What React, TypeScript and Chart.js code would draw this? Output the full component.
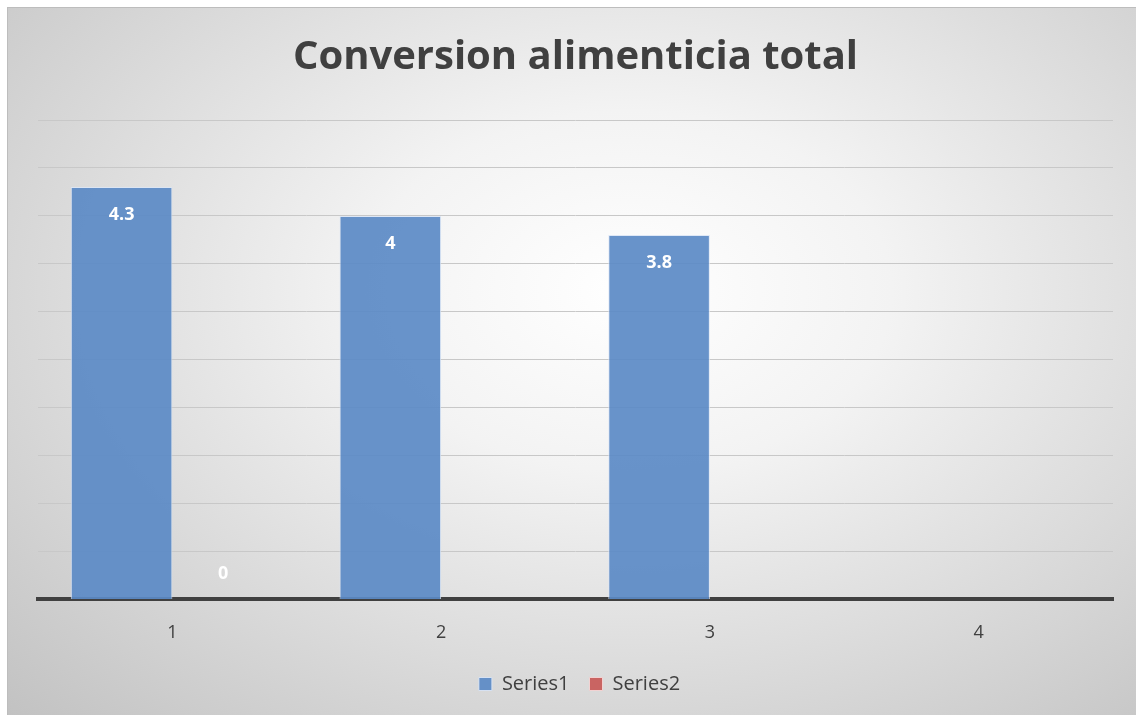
import React, { useEffect, useRef } from 'react';
import { Chart, registerables } from 'chart.js';

Chart.register(...registerables);

const chartTitle = 'Conversion alimenticia total';
const categories = ['1', '2', '3', '4'];
const seriesNames = ['Series1', 'Series2'];
const series1 = [4.3, 4, 3.8, null];
const series2 = [0, null, null, null];
const yMin = 0;
const yMax = 5;
const yStep = 0.5;

const FONT = '"Open Sans", "Noto Sans", sans-serif';

const labelPlugin = {
  id: 'barLabels',
  afterDatasetsDraw(chart: any) {
    const ctx = chart.ctx;
    ctx.save();
    ctx.fillStyle = '#ffffff';
    ctx.font = `bold 18px ${FONT}`;
    ctx.textAlign = 'center';
    ctx.textBaseline = 'middle';
    chart.data.datasets.forEach((ds: any, i: number) => {
      const meta = chart.getDatasetMeta(i);
      meta.data.forEach((el: any, j: number) => {
        const v = ds.data[j];
        if (v == null) return;
        const p = el.getProps(['x', 'y', 'base'], true);
        const ly = Math.min(p.y + 28, p.base - 26);
        ctx.fillText(String(v), p.x, ly);
      });
    });
    ctx.restore();
  },
};

const legendShift = {
  id: 'legendShift',
  afterLayout(chart: any) {
    const lg = chart.legend;
    if (lg) {
      lg.left += 4;
      lg.right += 4;
    }
  },
};

export default function App() {
  const ref = useRef<HTMLCanvasElement | null>(null);
  useEffect(() => {
    if (!ref.current) return;
    const chart = new Chart(ref.current, {
      type: 'bar',
      data: {
        labels: categories,
        datasets: [
          {
            label: seriesNames[0],
            data: series1,
            backgroundColor: 'rgba(91,138,198,0.92)',
            borderColor: 'rgba(220,230,245,0.9)',
            borderWidth: 1,
            categoryPercentage: 0.756,
            barPercentage: 1,
          },
          {
            label: seriesNames[1],
            data: series2,
            backgroundColor: 'rgba(200,90,88,0.92)',
            borderColor: 'rgba(245,215,215,0.9)',
            borderWidth: 1,
            categoryPercentage: 0.756,
            barPercentage: 1,
          },
        ],
      },
      options: {
        responsive: false,
        animation: false,
        maintainAspectRatio: false,
        layout: { padding: { left: 30, right: 23, top: 0, bottom: 11 } },
        plugins: {
          title: {
            display: true,
            text: chartTitle,
            color: '#404040',
            font: { family: FONT, size: 40, weight: 'bold' },
            padding: { top: 26, bottom: 38 },
          },
          legend: {
            display: true,
            position: 'bottom',
            labels: {
              color: '#404040',
              font: { family: FONT, size: 20 },
              boxWidth: 13,
              boxHeight: 13,
              padding: 20,
            },
          },
          tooltip: { enabled: false },
        },
        scales: {
          x: {
            grid: { display: false, drawTicks: false },
            border: { display: true, color: '#404040', width: 4 },
            ticks: { color: '#404040', font: { family: FONT, size: 18 }, padding: 23 },
            afterFit: (scale: any) => {
              scale.height -= 13;
            },
          },
          y: {
            min: yMin,
            max: yMax,
            grid: { color: '#c8c8c8', lineWidth: 1, drawTicks: false },
            border: { display: false },
            ticks: { display: false, stepSize: yStep },
          },
        },
      },
      plugins: [labelPlugin, legendShift],
    });
    return () => chart.destroy();
  }, []);

  return (
    <div style={{ position: 'absolute', left: 0, top: 0, width: 1136, height: 715, background: '#ffffff' }}>
      <div
        style={{
          position: 'absolute',
          left: 7,
          top: 7,
          width: 1129,
          height: 708,
          boxSizing: 'border-box',
          borderTop: '1px solid #bdbdbd',
          borderLeft: '1px solid #bdbdbd',
          background:
            'radial-gradient(ellipse farthest-corner at 55% 40%, #ffffff 0%, #f3f3f3 30%, #c2c2c2 100%)',
        }}
      >
        <canvas ref={ref} width={1128} height={707} style={{ display: 'block' }} />
      </div>
    </div>
  );
}
